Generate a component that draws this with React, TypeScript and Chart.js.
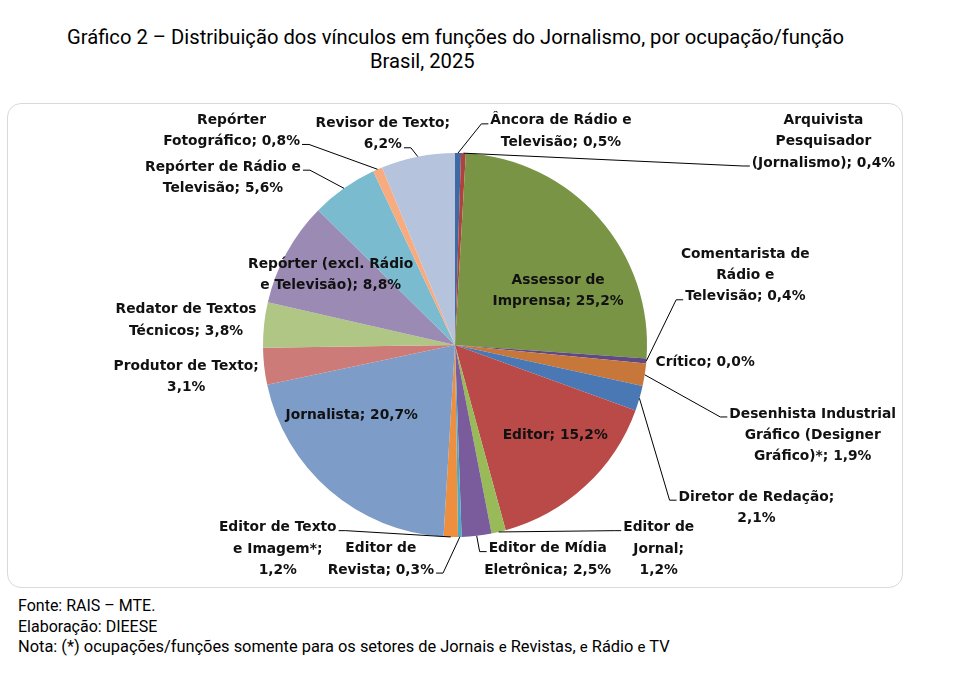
import React, { useEffect, useRef } from "react";
import { Chart, registerables } from "chart.js";

Chart.register(...registerables);

// Occupations / functions, clockwise from 12 o'clock
const categories = [
  "Âncora de Rádio e Televisão",
  "Arquivista Pesquisador (Jornalismo)",
  "Assessor de Imprensa",
  "Comentarista de Rádio e Televisão",
  "Crítico",
  "Desenhista Industrial Gráfico (Designer Gráfico)*",
  "Diretor de Redação",
  "Editor",
  "Editor de Jornal",
  "Editor de Mídia Eletrônica",
  "Editor de Revista",
  "Editor de Texto e Imagem*",
  "Jornalista",
  "Produtor de Texto",
  "Redator de Textos Técnicos",
  "Repórter (excl. Rádio e Televisão)",
  "Repórter de Rádio e Televisão",
  "Repórter Fotográfico",
  "Revisor de Texto",
];

// Share of employment links (%)
const shares = [0.5, 0.4, 25.2, 0.4, 0.0, 1.9, 2.1, 15.2, 1.2, 2.5, 0.3, 1.2, 20.7, 3.1, 3.8, 8.8, 5.6, 0.8, 6.2];

const sliceColors = [
  "#3E69A3", "#AE423E", "#7A9446", "#5F4A85", "#3D94AB", "#C8773A",
  "#4A78B5", "#B94A48", "#99BA58", "#7A5C9C", "#4BACC6", "#EE8E3F",
  "#7E9CC8", "#CD7B78", "#AFC684", "#9B8AB3", "#7ABBD0", "#F8AB7F",
  "#B5C3DC",
];

const titleLines = [
  "Gráfico 2 – Distribuição dos vínculos em funções do Jornalismo, por ocupação/função",
  "Brasil, 2025",
];

// Data-label layout: words per wrapped line, offset of the label block centre
// from the slice's outer-edge midpoint, and leader attachment (side, line index)
type LabelStyle = { words: number[]; dx: number; dy: number; side?: "left" | "right"; line?: number };
const labelStyles: LabelStyle[] = [
  { words: [4, 2], dx: 103, dy: -21.5, side: "left", line: 0 },
  { words: [1, 1, 2], dx: 360, dy: -11.5, side: "left", line: 2 },
  { words: [2, 2], dx: -41, dy: 72.5 },
  { words: [2, 2, 2], dx: 99, dy: -85.5, side: "left", line: 2 },
  { words: [2], dx: 59, dy: -1 },
  { words: [2, 2, 2], dx: 168, dy: 60.5, side: "left", line: 0 },
  { words: [3, 1], dx: 117, dy: 109.5, side: "left", line: 0 },
  { words: [2], dx: -30, dy: -51 },
  { words: [2, 1, 1], dx: 160, dy: 17, side: "left", line: 0 },
  { words: [3, 2], dx: 71, dy: 23.5, side: "left", line: 0 },
  { words: [2, 2], dx: -79, dy: 22.5, side: "right", line: 1 },
  { words: [3, 2, 1], dx: -173, dy: 12, side: "right", line: 0 },
  { words: [2], dx: 22, dy: -75 },
  { words: [3, 1], dx: -78, dy: 10.5 },
  { words: [3, 2], dx: -78, dy: -4.5 },
  { words: [3, 3], dx: 44, dy: 22.5 },
  { words: [4, 2], dx: -121, dy: -10.5, side: "right", line: 0 },
  { words: [1, 2], dx: -146, dy: -38.5, side: "right", line: 1 },
  { words: [3, 1], dx: -35, dy: -22.5, side: "right", line: 1 },
];

const LABEL_FONT = "bold 13.8px 'DejaVu Sans', sans-serif";
const LINE_H = 21.3;

const fmt = (v: number) => v.toFixed(1).replace(".", ",") + "%";

function wrapLabel(text: string, words: number[]): string[] {
  const parts = text.split(" ");
  const out: string[] = [];
  let i = 0;
  for (const n of words) {
    out.push(parts.slice(i, i + n).join(" "));
    i += n;
  }
  if (i < parts.length) out[out.length - 1] += " " + parts.slice(i).join(" ");
  return out;
}

const pieLabels = {
  id: "pieLabels",
  afterDatasetsDraw(chart: Chart) {
    const ctx = chart.ctx;
    const meta = chart.getDatasetMeta(0);
    ctx.save();
    ctx.font = LABEL_FONT;
    ctx.textAlign = "center";
    ctx.textBaseline = "middle";
    meta.data.forEach((arc: any, i: number) => {
      const p = arc.getProps(["x", "y", "startAngle", "endAngle", "outerRadius"], true);
      const mid = (p.startAngle + p.endAngle) / 2;
      const ex = p.x + Math.cos(mid) * p.outerRadius;
      const ey = p.y + Math.sin(mid) * p.outerRadius;
      const st = labelStyles[i];
      const lines = wrapLabel(`${categories[i]}; ${fmt(shares[i])}`, st.words);
      const cx = ex + st.dx;
      const cy = ey + st.dy;
      const top = cy - ((lines.length - 1) * LINE_H) / 2;

      if (st.side) {
        const li = st.line ?? 0;
        const lw = ctx.measureText(lines[li]).width;
        const ay = top + li * LINE_H + 3;
        const ax = st.side === "left" ? cx - lw / 2 - 2 : cx + lw / 2 + 2;
        const sx = st.side === "left" ? ax - 7 : ax + 7;
        ctx.strokeStyle = "#000";
        ctx.lineWidth = 1;
        ctx.beginPath();
        ctx.moveTo(ex, ey);
        ctx.lineTo(sx, ay);
        ctx.lineTo(ax, ay);
        ctx.stroke();
      }

      ctx.fillStyle = "#111";
      lines.forEach((l, k) => ctx.fillText(l, cx, top + k * LINE_H));
    });
    ctx.restore();
  },
};

export default function App() {
  const canvasRef = useRef<HTMLCanvasElement | null>(null);

  useEffect(() => {
    if (!canvasRef.current) return;
    const chart = new Chart(canvasRef.current, {
      type: "pie",
      data: {
        labels: categories,
        datasets: [
          {
            data: shares,
            backgroundColor: sliceColors,
            borderWidth: 0,
          },
        ],
      },
      options: {
        responsive: false,
        animation: false,
        layout: { padding: { top: 49, bottom: 50, left: 255, right: 255 } },
        plugins: {
          legend: { display: false },
          tooltip: { enabled: false },
          title: { display: false },
        },
      },
      plugins: [pieLabels],
    });
    return () => chart.destroy();
  }, []);

  const small = { fontSize: "15px" };

  return (
    <div
      style={{
        position: "absolute",
        left: 0,
        top: 0,
        width: 957,
        height: 689,
        background: "#fff",
        fontFamily: "Roboto, 'Noto Sans', sans-serif",
        color: "#000",
      }}
    >
      <div style={{ position: "absolute", left: 67, top: 25, fontSize: "20.2px", lineHeight: "24px", whiteSpace: "nowrap" }}>
        {titleLines[0]}
      </div>
      <div style={{ position: "absolute", left: 370, top: 49, fontSize: "20.2px", lineHeight: "24px", whiteSpace: "nowrap" }}>
        {titleLines[1]}
      </div>
      <div
        style={{
          position: "absolute",
          left: 7,
          top: 103,
          width: 894,
          height: 483,
          border: "1px solid #d9d9d9",
          borderRadius: 14,
          overflow: "hidden",
        }}
      >
        <canvas ref={canvasRef} width={894} height={483} style={{ display: "block" }} />
      </div>
      <div style={{ position: "absolute", left: 18, top: 596, fontSize: "16px", lineHeight: "20.5px", whiteSpace: "nowrap" }}>
        <div>Fonte: RAIS – MTE.</div>
        <div>Elaboração: DIEESE</div>
        <div style={{ fontSize: "16.4px" }}>
          Nota: (*) ocupações/funções somente para os setores de Jornais <span style={small}>e</span> Revistas,{" "}
          <span style={small}>e</span> Rádio <span style={small}>e</span> TV
        </div>
      </div>
    </div>
  );
}
